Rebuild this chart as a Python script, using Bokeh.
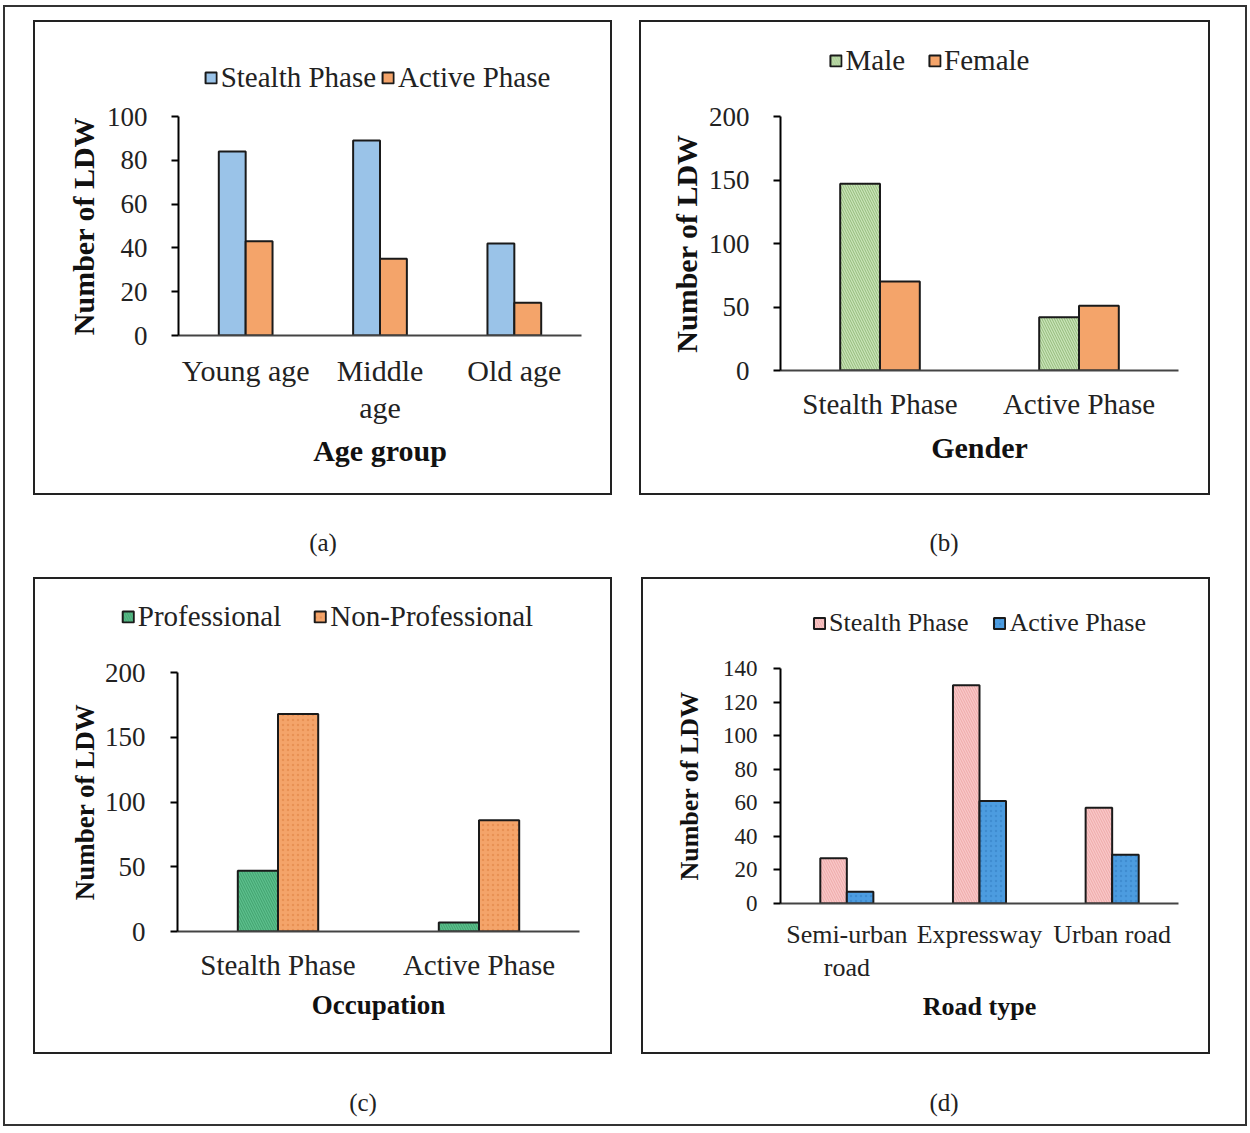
from bokeh.plotting import figure
from bokeh.models import (FactorRange, Legend, LegendItem, FixedTicker, Div, Spacer,
                          ColumnDataSource, CategoricalAxis)
from bokeh.transform import dodge
from bokeh.layouts import column, row
from bokeh.embed import file_html
from bokeh.resources import INLINE

# ---------------- data ----------------
age_groups = ["Young age", "Middle age", "Old age"]
age_stealth = [84, 89, 42]
age_active = [43, 35, 15]
age_line1 = ["Young age", "Middle", "Old age"]   # first line of each tick label
age_line2 = [" ", "age", "  "]                  # second line of each tick label

gender_phases = ["Stealth Phase", "Active Phase"]
gender_male = [147, 42]
gender_female = [70, 51]

occ_phases = ["Stealth Phase", "Active Phase"]
occ_prof = [47, 7]
occ_nonprof = [168, 86]

road_types = ["Semi-urban road", "Expressway", "Urban road"]
road_stealth = [27, 130, 57]
road_active = [7, 61, 29]
road_line1 = ["Semi-urban", "Expressway", "Urban road"]
road_line2 = ["road", " ", "  "]

FONT = "Liberation Serif"
EDGE = "#1a1a1a"


def style_label_axis(ax, fs, standoff):
    ax.major_tick_line_color = None
    ax.minor_tick_line_color = None
    ax.major_tick_out = 0
    ax.major_tick_in = 0
    ax.major_label_text_font = FONT
    ax.major_label_text_font_size = f"{fs}px"
    ax.major_label_text_color = "#222222"
    ax.major_label_standoff = standoff


def bars(fig, src, fills, hatches, hatch_colors, visible=True):
    r1 = fig.vbar(x=dodge("cat", -0.1, range=fig.x_range), top="v1", width=0.2, source=src,
                  fill_color=fills[0], line_color=EDGE, line_width=2,
                  hatch_pattern=hatches[0], hatch_color=hatch_colors[0],
                  hatch_scale=5, hatch_weight=1, hatch_alpha=0.6, visible=visible)
    r2 = fig.vbar(x=dodge("cat", 0.1, range=fig.x_range), top="v2", width=0.2, source=src,
                  fill_color=fills[1], line_color=EDGE, line_width=2,
                  hatch_pattern=hatches[1], hatch_color=hatch_colors[1],
                  hatch_scale=5, hatch_weight=1, hatch_alpha=0.45, visible=visible)
    return r1, r2


def panel(cats, vals1, vals2, names, fills, hatches, hatch_colors, ymax, yticks,
          xtitle, lines, size, top_h, borders, fs, leg_cfg, stds):
    w, h = size
    w -= 4
    h -= 4
    bl, br, bb = borders
    tick_fs, cat_fs, leg_fs, xt_fs, yt_fs = fs
    tick_std, ytitle_std, cat_std, line2_std, xtitle_std = stds
    leg_h = top_h - 22
    src = ColumnDataSource(dict(cat=cats, v1=vals1, v2=vals2))

    # --- chart
    p = figure(x_range=FactorRange(*cats), y_range=(0, ymax),
               width=w, height=h - leg_h, x_axis_location=None,
               min_border_left=bl, min_border_right=br,
               min_border_top=20, min_border_bottom=bb,
               output_backend="svg", toolbar_location=None, tools="")
    p.frame_align = False
    bars(p, src, fills, hatches, hatch_colors)
    p.outline_line_color = None
    p.xgrid.grid_line_color = None
    p.ygrid.grid_line_color = None

    ya = p.yaxis[0]
    ya.ticker = FixedTicker(ticks=yticks)
    ya.axis_line_color = "black"
    ya.axis_line_width = 2
    ya.major_tick_line_color = "black"
    ya.major_tick_line_width = 2
    ya.major_tick_out = 7
    ya.major_tick_in = 0
    ya.minor_tick_line_color = None
    ya.major_label_text_font = FONT
    ya.major_label_text_font_size = f"{tick_fs}px"
    ya.major_label_text_color = "#222222"
    ya.major_label_standoff = tick_std
    ya.axis_label = "Number of LDW"
    ya.axis_label_text_font = FONT
    ya.axis_label_text_font_style = "bold"
    ya.axis_label_text_font_size = f"{yt_fs}px"
    ya.axis_label_text_color = "#111111"
    ya.axis_label_standoff = ytitle_std

    if lines is None:
        xa = CategoricalAxis()
        p.add_layout(xa, "below")
        title_axis = xa
    else:
        p.extra_x_ranges = {"l1": FactorRange(*lines[0]), "l2": FactorRange(*lines[1])}
        xa = CategoricalAxis(x_range_name="l1")
        p.add_layout(xa, "below")
        ax2 = CategoricalAxis(x_range_name="l2", axis_line_color=None)
        style_label_axis(ax2, cat_fs, line2_std)
        p.add_layout(ax2, "below")
        title_axis = ax2
    xa.axis_line_color = "#444444"
    xa.axis_line_width = 2
    style_label_axis(xa, cat_fs, cat_std)
    title_axis.axis_label = xtitle
    title_axis.axis_label_text_font = FONT
    title_axis.axis_label_text_font_style = "bold"
    title_axis.axis_label_text_font_size = f"{xt_fs}px"
    title_axis.axis_label_text_color = "#111111"
    title_axis.axis_label_standoff = xtitle_std

    # --- legend strip (same series, hidden bars; only the legend shows)
    lc_x, lc_y, spacing = leg_cfg
    ml = max(0, 2 * lc_x - w)
    mr = max(0, w - 2 * lc_x)
    mt = max(0, 2 * lc_y - leg_h)
    mb = max(0, leg_h - 2 * lc_y)
    lg = figure(width=w, height=leg_h, x_range=FactorRange(*cats), y_range=(0, 1),
                x_axis_type=None, y_axis_type=None,
                min_border_left=ml, min_border_right=mr,
                min_border_top=mt, min_border_bottom=mb,
                output_backend="svg", toolbar_location=None, tools="")
    lg.frame_align = False
    lg.outline_line_color = None
    lg.xgrid.grid_line_color = None
    lg.ygrid.grid_line_color = None
    d1, d2 = bars(lg, src, fills, hatches, hatch_colors, visible=False)
    leg = Legend(items=[LegendItem(label=names[0], renderers=[d1]),
                        LegendItem(label=names[1], renderers=[d2])],
                 orientation="horizontal", location="center",
                 label_text_font=FONT, label_text_font_size=f"{leg_fs}px",
                 label_text_color="#222222",
                 glyph_width=14, glyph_height=14, label_standoff=3,
                 spacing=spacing, padding=0, margin=0,
                 inactive_fill_alpha=0,
                 border_line_color=None, background_fill_alpha=0)
    lg.add_layout(leg, "center")

    return column(lg, p, styles={"border": "2px solid #222222"})


pa = panel(age_groups, age_stealth, age_active, ["Stealth Phase", "Active Phase"],
           ["#9AC3E8", "#F4A46A"], [" ", " "], ["#6a9fd0", "#e08a50"],
           100, [0, 20, 40, 60, 80, 100], "Age group", (age_line1, age_line2),
           (579, 475), 96, (143, 29, 158), (27, 30, 29, 30, 30),
           (342, 55, 5), (24, 4, 18, 1, 7))

pb = panel(gender_phases, gender_male, gender_female, ["Male", "Female"],
           ["#C9E4B8", "#F4A46A"], ["\\", " "], ["#6f9f52", "#e08a50"],
           200, [0, 50, 100, 150, 200], "Gender", None,
           (571, 475), 96, (139, 30, 123), (27, 29, 29, 30, 30),
           (288, 38, 22), (24, 3, 17, 1, 8))

pc = panel(occ_phases, occ_prof, occ_nonprof, ["Professional", "Non-Professional"],
           ["#5CBF8C", "#F4A46A"], ["\\", "."], ["#2f8c5a", "#d97a3a"],
           200, [0, 50, 100, 150, 200], "Occupation", None,
           (579, 477), 95, (142, 31, 121), (27, 29, 29, 27, 27),
           (292, 37, 32), (25, 2, 17, 1, 6))

pd = panel(road_types, road_stealth, road_active, ["Stealth Phase", "Active Phase"],
           ["#F9C8C8", "#4C9CE0"], ["\\", "."], ["#e59494", "#2f78bd"],
           140, [0, 20, 40, 60, 80, 100, 120, 140], "Road type", (road_line1, road_line2),
           (569, 477), 91, (137, 30, 149), (23, 26, 26, 26, 26),
           (336, 44, 24), (16, 16, 16, 1, 7))


def cap(t):
    return Div(text=t, width=60, height=40,
               styles={"text-align": "center", "font-family": FONT,
                       "font-size": "25px", "color": "#222"})


cap_row1 = row(Spacer(width=283), cap("(a)"), Spacer(width=551), cap("(b)"),
               styles={"padding-top": "25px"}, height=82)
cap_row2 = row(Spacer(width=323), cap("(c)"), Spacer(width=511), cap("(d)"),
               styles={"padding-top": "26px"}, height=70)

layout = column(
    Spacer(height=13),
    row(Spacer(width=28), pa, Spacer(width=27), pb, Spacer(width=35)),
    cap_row1,
    row(Spacer(width=28), pc, Spacer(width=29), pd, Spacer(width=35)),
    cap_row2,
    styles={"border": "2px solid #333333", "margin-left": "3px", "margin-top": "5px"},
)

open("out.html", "w").write(file_html(layout, INLINE))
